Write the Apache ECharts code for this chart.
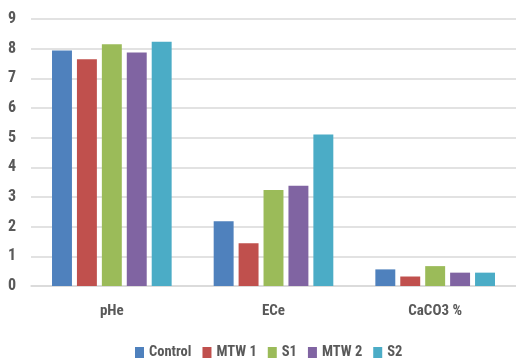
<!DOCTYPE html>
<html>
<head>
<meta charset="utf-8">
<script src="https://cdn.jsdelivr.net/npm/echarts@6/dist/echarts.min.js"></script>
<style>
  html, body { margin: 0; padding: 0; background: #fff; }
  #chart { width: 516px; height: 360px; }
</style>
</head>
<body>
<div id="chart"></div>
<script>
// Soil properties by treatment
const categories = ['pHe', 'ECe', 'CaCO3 %'];
const seriesNames = ['Control', 'MTW 1', 'S1', 'MTW 2', 'S2'];
const control = [7.94, 2.18, 0.56];
const mtw1 = [7.64, 1.44, 0.32];
const s1 = [8.15, 3.24, 0.67];
const mtw2 = [7.87, 3.38, 0.45];
const s2 = [8.23, 5.11, 0.45];
const yTicks = [0, 1, 2, 3, 4, 5, 6, 7, 8, 9];

const values = [control, mtw1, s1, mtw2, s2];
const colors = ['#4F81BD', '#C0504D', '#9BBB59', '#8064A2', '#4BACC6'];
const font = "'Roboto Condensed', 'DejaVu Sans Condensed', sans-serif";

const chart = echarts.init(document.getElementById('chart'));
chart.setOption({
  animation: false,
  color: colors,
  textStyle: { fontFamily: font },
  grid: { left: 31, width: 488, top: 19, bottom: 74, containLabel: false },
  legend: {
    bottom: 0,
    left: 135,
    padding: 0,
    itemWidth: 9,
    itemHeight: 11,
    itemGap: 11,
    icon: 'rect',
    textStyle: { color: '#595959', fontSize: 14.5, fontWeight: 'bold', fontFamily: font },
    data: seriesNames
  },
  xAxis: {
    type: 'category',
    data: categories,
    axisLine: { show: true, lineStyle: { color: '#d9d9d9', width: 1.5 } },
    axisTick: { show: false },
    axisLabel: { color: '#595959', fontSize: 15, fontWeight: 'bold', margin: 18, fontFamily: font }
  },
  yAxis: {
    type: 'value',
    min: yTicks[0],
    max: yTicks[yTicks.length - 1],
    interval: 1,
    axisLine: { show: false },
    axisTick: { show: false },
    splitLine: { lineStyle: { color: '#d9d9d9', width: 1.5 } },
    axisLabel: { color: '#595959', fontSize: 16, fontWeight: 'bold', margin: 15, fontFamily: font }
  },
  series: seriesNames.map((name, i) => ({
    name: name,
    type: 'bar',
    data: values[i],
    barGap: '25%',
    barCategoryGap: '26%',
    itemStyle: { color: colors[i] }
  }))
});
</script>
</body>
</html>
